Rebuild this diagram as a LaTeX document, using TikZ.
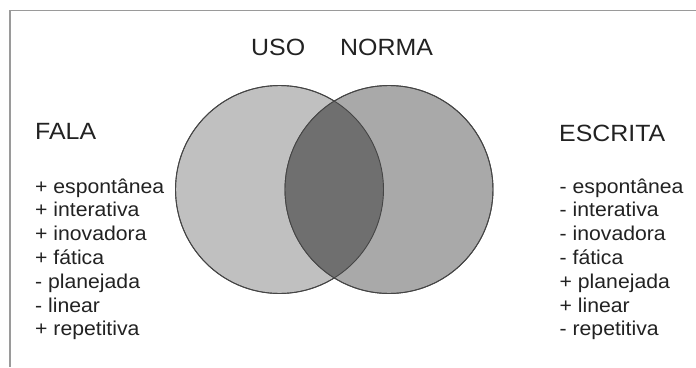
\documentclass[tikz,border=0pt]{standalone}
\usepackage{fontspec}
\setmainfont{Liberation Sans}[FakeStretch=1.06]
\definecolor{frameC}{HTML}{9A9A9A}
\definecolor{leftC}{HTML}{C0C0C0}
\definecolor{rightC}{HTML}{A9A9A9}
\definecolor{midC}{HTML}{6F6F6F}
\definecolor{edgeC}{HTML}{454545}
\definecolor{txtC}{HTML}{222222}
\tikzset{
  setcircle/.style={circle, minimum size=208pt, inner sep=0pt, draw=edgeC, line width=0.9pt},
  heading/.style={anchor=base west, inner sep=0pt, text=txtC, font=\fontsize{23.5}{28}\selectfont},
  item/.style={anchor=base west, inner sep=0pt, text=txtC, font=\fontsize{20}{24}\selectfont},
}
\begin{document}
\begin{tikzpicture}[x=1pt,y=-1pt]
\useasboundingbox (0,0) rectangle (696,367);
\fill[white] (0,0) rectangle (696,367);
% frame
\coordinate (ftop) at (696,10.5);
\coordinate (fcorner) at (10,10.5);
\coordinate (fbot) at (10,367);
\draw[frameC, line width=1.8pt] (ftop) -- (fcorner) -- (fbot);
% circles
\node[setcircle, fill=leftC] (uso) at (279.5,189.5) {};
\node[setcircle, fill=rightC] (norma) at (389,189.5) {};
\begin{scope}
  \clip (uso.center) circle (104pt);
  \fill[midC] (norma.center) circle (104pt);
\end{scope}
\draw[edgeC, line width=0.9pt] (uso.center) circle (104pt);
\draw[edgeC, line width=0.9pt] (norma.center) circle (104pt);
% headings
\node[heading] (usoL) at (251,55) {USO};
\node[heading] (normaL) at (340,55) {NORMA};
\node[heading] (fala) at (35,139) {FALA};
\node[heading] (escrita) at (559,141) {ESCRITA};
% lists
\foreach \t [count=\i] in {+ espontânea,+ interativa,+ inovadora,+ fática,- planejada,- linear,+ repetitiva}
  \node[item] (fl\i) at (35,{193+23.8*(\i-1)}) {\t};
\foreach \t [count=\i] in {- espontânea,- interativa,- inovadora,- fática,+ planejada,+ linear,- repetitiva}
  \node[item] (el\i) at (559.5,{193+23.8*(\i-1)}) {\t};
\end{tikzpicture}
\end{document}
